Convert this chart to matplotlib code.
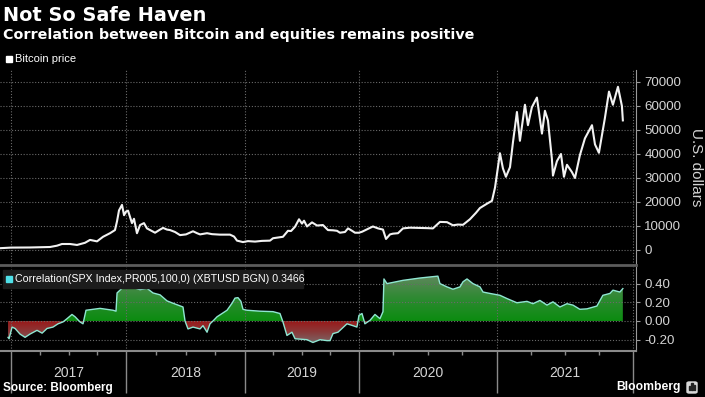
import numpy as np
import matplotlib
matplotlib.use('Agg')
import matplotlib.pyplot as plt
import matplotlib.transforms as mtransforms
from matplotlib.path import Path
from matplotlib.colors import LinearSegmentedColormap
from matplotlib.patches import Rectangle, FancyBboxPatch

# bitcoin price (decimal year, USD)
btc_t = [2016.904, 2017.000, 2017.165, 2017.339, 2017.400, 2017.443, 2017.513, 2017.574,
         2017.643, 2017.687, 2017.748, 2017.800, 2017.861, 2017.904, 2017.922, 2017.939,
         2017.965, 2017.983, 2018.000, 2018.017, 2018.050, 2018.067, 2018.092, 2018.118,
         2018.151, 2018.176, 2018.202, 2018.244, 2018.286, 2018.311, 2018.345, 2018.370,
         2018.412, 2018.454, 2018.504, 2018.563, 2018.597, 2018.622, 2018.681, 2018.723,
         2018.790, 2018.874, 2018.908, 2018.933, 2018.983, 2019.026, 2019.088, 2019.149,
         2019.219, 2019.246, 2019.307, 2019.333, 2019.377, 2019.404, 2019.439, 2019.474,
         2019.500, 2019.518, 2019.544, 2019.588, 2019.632, 2019.684, 2019.728, 2019.772,
         2019.807, 2019.833, 2019.877, 2019.904, 2019.939, 2019.965, 2020.000, 2020.022,
         2020.065, 2020.101, 2020.138, 2020.174, 2020.196, 2020.225, 2020.246, 2020.283,
         2020.319, 2020.370, 2020.442, 2020.500, 2020.536, 2020.587, 2020.638, 2020.681,
         2020.717, 2020.754, 2020.804, 2020.848, 2020.877, 2020.928, 2020.964, 2020.986,
         2021.022, 2021.044, 2021.066, 2021.096, 2021.118, 2021.147, 2021.169, 2021.206,
         2021.228, 2021.257, 2021.294, 2021.331, 2021.353, 2021.375, 2021.404, 2021.412,
         2021.441, 2021.471, 2021.493, 2021.515, 2021.551, 2021.574, 2021.610, 2021.647,
         2021.699, 2021.721, 2021.750, 2021.794, 2021.824, 2021.853, 2021.890, 2021.919,
         2021.926]
btc_v = [750, 1000, 1050, 1250, 1800, 2500, 2500, 2100,
         3000, 4200, 3600, 5500, 7000, 8300, 12000, 16500,
         18800, 14500, 16000, 16400, 11200, 13000, 7000, 10400,
         11200, 9000, 8300, 7200, 8500, 9200, 8500, 8300,
         7500, 6200, 6500, 7800, 7000, 6500, 7000, 6600,
         6400, 6400, 5600, 3900, 3300, 3700, 3500, 3800,
         3900, 4900, 5300, 5500, 8000, 7900, 9700, 12800,
         11000, 12200, 9800, 11500, 10200, 10400, 8300, 8200,
         8000, 7200, 7500, 9000, 8000, 7200, 7200, 7600,
         8800, 9800, 9000, 8500, 4600, 6500, 6800, 7000,
         9000, 9300, 9200, 9100, 9000, 11700, 11600, 10300,
         10600, 10500, 12800, 15500, 17500, 19300, 20500, 26000,
         40300, 34000, 30500, 34500, 45000, 57500, 45500, 60500,
         52000, 59500, 63500, 48500, 58000, 54000, 38000, 31000,
         37000, 40000, 30500, 35500, 32500, 30000, 39500, 46500,
         52000, 44000, 40500, 55000, 66000, 60500, 68000, 60000,
         54000]

# correlation SPX vs XBTUSD (decimal year, coefficient)
corr_t = [2016.974, 2016.983, 2017.009, 2017.035, 2017.078, 2017.122, 2017.165, 2017.226,
          2017.270, 2017.313, 2017.365, 2017.409, 2017.452, 2017.487, 2017.530, 2017.557,
          2017.600, 2017.626, 2017.652, 2017.774, 2017.887, 2017.913, 2017.922, 2017.965,
          2018.008, 2018.059, 2018.118, 2018.176, 2018.227, 2018.286, 2018.345, 2018.395,
          2018.479, 2018.496, 2018.521, 2018.563, 2018.622, 2018.647, 2018.681, 2018.706,
          2018.731, 2018.765, 2018.807, 2018.849, 2018.891, 2018.916, 2018.941, 2018.966,
          2018.983, 2019.018, 2019.132, 2019.246, 2019.307, 2019.333, 2019.368, 2019.412,
          2019.439, 2019.544, 2019.596, 2019.658, 2019.719, 2019.746, 2019.772, 2019.816,
          2019.895, 2019.947, 2019.982, 2020.000, 2020.022, 2020.043, 2020.080, 2020.116,
          2020.152, 2020.174, 2020.181, 2020.203, 2020.319, 2020.442, 2020.572, 2020.587,
          2020.638, 2020.681, 2020.732, 2020.754, 2020.783, 2020.826, 2020.877, 2020.899,
          2020.949, 2021.022, 2021.074, 2021.147, 2021.221, 2021.265, 2021.316, 2021.368,
          2021.412, 2021.463, 2021.515, 2021.559, 2021.610, 2021.662, 2021.735, 2021.779,
          2021.831, 2021.853, 2021.904, 2021.926]
corr_v = [-0.175, -0.19, -0.065, -0.08, -0.14, -0.175, -0.14, -0.10,
          -0.13, -0.08, -0.065, -0.03, -0.01, 0.025, 0.07, 0.045,
          -0.01, -0.03, 0.115, 0.135, 0.115, 0.105, 0.30, 0.35,
          0.37, 0.36, 0.335, 0.35, 0.30, 0.28, 0.215, 0.19,
          0.15, 0.0, -0.085, -0.065, -0.085, -0.05, -0.12, -0.03,
          0.0, 0.045, 0.08, 0.115, 0.19, 0.245, 0.25, 0.21,
          0.125, 0.115, 0.105, 0.10, 0.08, -0.01, -0.155, -0.12,
          -0.19, -0.20, -0.23, -0.20, -0.21, -0.21, -0.135, -0.12,
          -0.03, -0.05, -0.065, 0.06, 0.08, -0.03, 0.007, 0.07,
          0.025, 0.10, 0.45, 0.40, 0.435, 0.46, 0.48, 0.40,
          0.365, 0.34, 0.365, 0.42, 0.45, 0.40, 0.365, 0.31,
          0.295, 0.275, 0.24, 0.195, 0.21, 0.185, 0.22, 0.17,
          0.205, 0.15, 0.185, 0.17, 0.125, 0.13, 0.16, 0.275,
          0.295, 0.33, 0.31, 0.3466]

years = [2017, 2018, 2019, 2020, 2021]
btc_ticks = [0, 10000, 20000, 30000, 40000, 50000, 60000, 70000]
corr_ticks = [-0.2, 0.0, 0.2, 0.4]

# bloomberg's time axis is not uniform: 2020 gets more room than other years
scale_years = [2016, 2017, 2018, 2019, 2020, 2021, 2022, 2023]
scale_pos = [-104, 11, 126, 245, 359, 497, 633, 769]


def fwd(x):
    return np.interp(x, scale_years, scale_pos)


def inv(p):
    return np.interp(p, scale_pos, scale_years)


sans = ['Liberation Sans', 'DejaVu Sans']
tick_col = '#d4d4d4'
grid_col = '#6a6a6a'

fig = plt.figure(figsize=(7.05, 3.97), dpi=100, facecolor='black')
ax1 = fig.add_axes([0, 0.3325, 0.902, 0.4912])
ax2 = fig.add_axes([0, 0.1159, 0.902, 0.2116])

for ax in (ax1, ax2):
    ax.set_facecolor('black')
    ax.set_xscale('function', functions=(fwd, inv))
    for s in ('top', 'left'):
        ax.spines[s].set_visible(False)
    ax.yaxis.tick_right()
    ax.tick_params(axis='y', colors='#9a9a9a', length=3, labelcolor=tick_col,
                   labelsize=9.6, pad=3)
    ax.grid(True, color=grid_col, ls=(0, (1, 1.6)), lw=0.8)
    ax.spines['right'].set_color('#9a9a9a')

# top panel: bitcoin price
ax1.plot(btc_t, btc_v, color='#f2f2f2', lw=1.5, zorder=3)
ax1.set_ylim(-6250, 75000)
ax1.set_yticks(btc_ticks)
ax1.set_yticklabels([str(v) for v in btc_ticks], family=sans)
ax1.set_xticks(years + [2022])
ax1.tick_params(axis='x', length=0, labelbottom=False)
ax1.spines['bottom'].set_color('#5c5c5c')
ax1.spines['bottom'].set_linewidth(2)
ax1.set_xlim(2016.904, 2022.022)
fig.text(696 / 705, 1 - 167 / 397, 'U.S. dollars', rotation=270, color=tick_col,
         fontsize=11, family=sans, ha='center', va='center')

# bottom panel: correlation with gradient fills
ct = np.array(corr_t)
cv = np.array(corr_v)
y0, y1 = -0.321, 0.578
ax2.set_ylim(y0, y1)
ax2.set_xlim(2016.904, 2022.022)


def frac(v):
    return (v - y0) / (y1 - y0)


grad = np.linspace(0, 1, 200).reshape(-1, 1)
green = LinearSegmentedColormap.from_list('g', ['#0b8c10', '#2f8a33', '#62875f'])
red = LinearSegmentedColormap.from_list('r', ['#7a6a6a', '#8a3a3a', '#9a1616'])

pos = ax2.fill_between(ct, cv, 0, where=cv >= 0, interpolate=True,
                       facecolor='none', edgecolor='none')
neg = ax2.fill_between(ct, cv, 0, where=cv <= 0, interpolate=True,
                       facecolor='none', edgecolor='none')

img_g = ax2.imshow(grad, cmap=green, extent=(0, 1, frac(0), frac(0.5)),
                   transform=ax2.transAxes, origin='lower', aspect='auto', zorder=1)
img_g.set_clip_path(Path.make_compound_path(*pos.get_paths()), transform=ax2.transData)
img_r = ax2.imshow(grad, cmap=red, extent=(0, 1, frac(-0.25), frac(0)),
                   transform=ax2.transAxes, origin='lower', aspect='auto', zorder=1)
img_r.set_clip_path(Path.make_compound_path(*neg.get_paths()), transform=ax2.transData)

ax2.plot(ct, cv, color='#8fe6d2', lw=1, zorder=3)
ax2.set_ylim(y0, y1)
ax2.set_xlim(2016.904, 2022.022)
ax2.set_yticks(corr_ticks)
ax2.set_yticklabels(['%.2f' % v for v in corr_ticks], family=sans)

ax2.set_xticks(years + [2022])
ax2.set_xticks([y + q / 4 for y in [2016] + years for q in (1, 2, 3)
                if 2016.904 < y + q / 4 < 2022], minor=True)
ax2.tick_params(axis='x', which='major', length=30, width=1, color='#8a8a8a',
                labelbottom=False)
ax2.tick_params(axis='x', which='minor', length=3, width=1, color='#8a8a8a')
ax2.grid(True, which='major', axis='both', color=grid_col, ls=(0, (1, 1.6)), lw=0.8)
ax2.spines['bottom'].set_color('#8a8a8a')
ax2.spines['bottom'].set_linewidth(1.5)

lab_tr = mtransforms.blended_transform_factory(ax2.transData, ax2.transAxes)
for y in years:
    ax2.text(y + 0.5, -0.26, str(y), transform=lab_tr, ha='center', va='center',
             color=tick_col, fontsize=10, family=sans)

# titles and legends
fig.text(0.004, 0.962, 'Not So Safe Haven', color='white', fontsize=13.9,
         fontweight='bold', va='center', ha='left')
fig.text(0.004, 0.912, 'Correlation between Bitcoin and equities remains positive',
         color='white', fontsize=10.3, fontweight='bold', va='center', ha='left')

fig.patches.append(Rectangle((6 / 705, 1 - 62 / 397), 6 / 705, 6 / 397,
                             transform=fig.transFigure, color='white'))
fig.text(15 / 705, 1 - 59 / 397, 'Bitcoin price', color='white', fontsize=8,
         family=sans, va='center')

fig.patches.append(Rectangle((3 / 705, 1 - 288 / 397), 300 / 705, 18 / 397,
                             transform=fig.transFigure, color='#1c1c1c', zorder=5))
fig.patches.append(Rectangle((6 / 705, 1 - 282 / 397), 6 / 705, 6 / 397,
                             transform=fig.transFigure, color='#4fe0e8', zorder=6))
fig.text(15 / 705, 1 - 279 / 397,
         'Correlation(SPX Index,PR005,100,0) (XBTUSD BGN) 0.3466',
         color='white', fontsize=7.7, family=sans, va='center', zorder=7)

fig.text(0.004, 1 - 388 / 397, 'Source: Bloomberg', color='white', fontsize=8.5,
         fontweight='bold', family=sans, va='center')
fig.text(681 / 705, 1 - 387 / 397, 'Bloomberg', color='white', fontsize=8.7,
         fontweight='bold', family=sans, va='center', ha='right')
fig.patches.append(FancyBboxPatch((687 / 705, 1 - 393 / 397), 10 / 705, 11 / 397,
                                  boxstyle='round,pad=0,rounding_size=0.003',
                                  transform=fig.transFigure, color='#d8d8d8'))
for i, h in enumerate([4, 7, 5]):
    fig.patches.append(Rectangle(((689 + 2.4 * i) / 705, 1 - 390 / 397), 1.4 / 705, h / 397,
                                 transform=fig.transFigure, color='#222222'))

fig.savefig('out.png', dpi=100, facecolor='black')
